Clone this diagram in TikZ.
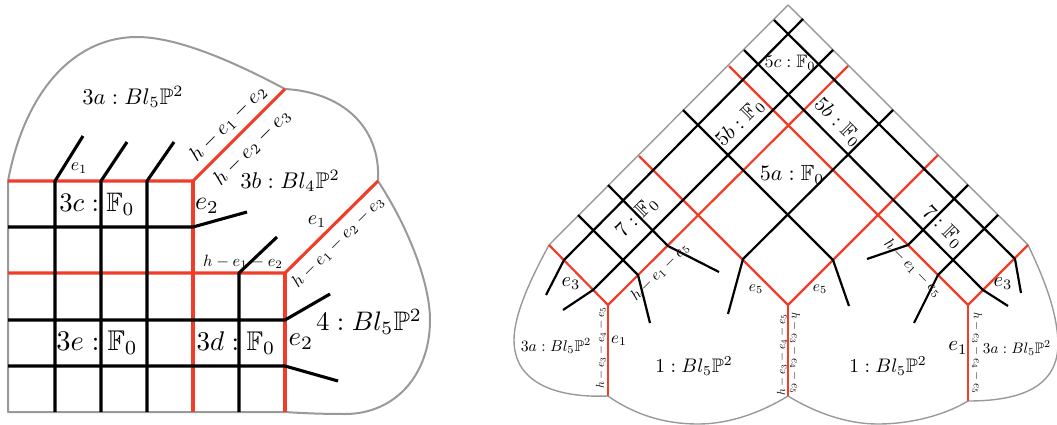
\documentclass[tikz,border=0pt]{standalone}
\usepackage{amssymb}
\definecolor{rd}{HTML}{F03C28}
\definecolor{gr}{HTML}{999999}
\tikzset{
 outl/.style={draw=gr,line width=2pt,line join=round},
 outr/.style={draw=gr,line width=1.4pt,line join=round},
 redl/.style={draw=rd,line width=3.1pt,line join=round},
 blkl/.style={draw=black,line width=3.1pt,line join=round},
 redr/.style={draw=rd,line width=2.2pt,line join=round},
 blkr/.style={draw=black,line width=2.2pt,line join=round},
 lab/.style={inner sep=0pt,scale=#1},
}
\begin{document}
\begin{tikzpicture}[x=1pt,y=-1pt]
\useasboundingbox (0,0) rectangle (1057,425);
% left figure outline
\draw[outl] (8,412) -- (8,181) .. controls (25,90) and (75,37) .. (137,37) .. controls (180,37) and (240,65) .. (285,89)
  .. controls (340,92) and (381,125) .. (378,181) .. controls (410,230) and (430,285) .. (430,320)
  .. controls (430,375) and (395,414) .. (345,414) .. controls (320,414) and (300,413) .. (285,412) -- cycle;
% left figure red
\draw[redl] (8,181) -- (193,181) -- (285,89);
\draw[redl] (193,181) -- (193,412);
\draw[redl] (8,273) -- (285,273) -- (378,181);
\draw[redl] (285,273) -- (285,412);
% left figure black
\draw[blkl] (8,227) -- (193,227) -- (247,212);
\draw[blkl] (8,320) -- (285,320) -- (330,294);
\draw[blkl] (8,366) -- (285,366) -- (338,381);
\draw[blkl] (55,412) -- (55,181) -- (83,136);
\draw[blkl] (101,412) -- (101,181) -- (127,142);
\draw[blkl] (147,412) -- (147,181) -- (174,142);
\draw[blkl] (239,412) -- (239,273) -- (277,237);
% left labels
\node[lab=2.26] (a3a) at (133,97) {$3a:Bl_5\mathbb{P}^2$};
\node[lab=2.05,rotate=45] (ah1) at (228,123) {$h-e_1-e_2$};
\node[lab=2.05,rotate=45] (ah2) at (252,147) {$h-e_2-e_3$};
\node[lab=1.8] (ae1) at (79,168) {$e_1$};
\node[lab=2.67] (a3c) at (97,204) {$3c:\mathbb{F}_0$};
\node[lab=2.6] (ae2) at (207,206) {$e_2$};
\node[lab=2.27] (a3b) at (290,181) {$3b:Bl_4\mathbb{P}^2$};
\node[lab=2] (be1) at (317,222) {$e_1$};
\node[lab=1.75,rotate=45] (ah3) at (338,242) {$h-e_1-e_2-e_3$};
\node[lab=1.64] (ah4) at (243,262) {$h-e_1-e_2$};
\node[lab=2.85] (a3e) at (97,343) {$3e:\mathbb{F}_0$};
\node[lab=2.7] (a3d) at (236,343) {$3d:\mathbb{F}_0$};
\node[lab=2.7] (be2) at (301,342) {$e_2$};
\node[lab=2.68] (a4) at (369,322) {$4:Bl_5\mathbb{P}^2$};
% right figure outline
\draw[outr] (549,245) -- (788,5) -- (1028,245) .. controls (1040,270) and (1058,310) .. (1058,345)
  .. controls (1057,390) and (1015,401) .. (968,401) .. controls (945,415) and (911,424) .. (878,424)
  .. controls (846,424) and (814,412) .. (788,396) .. controls (762,412) and (730,424) .. (698,424)
  .. controls (665,424) and (635,415) .. (608,396) .. controls (560,398) and (514,385) .. (514,340)
  .. controls (514,315) and (530,280) .. (549,245);
% right figure red
\draw[redr] (549,245) -- (608,305) -- (848,66);
\draw[redr] (639,156) -- (788,305) -- (938,155);
\draw[redr] (729,66) -- (968,305) -- (1028,245);
\draw[redr] (608,305) -- (608,396);
\draw[redr] (788,305) -- (788,396);
\draw[redr] (968,305) -- (968,401);
% right figure black, running up to the right
\draw[blkr] (546,295) -- (564,260) -- (803,19);
\draw[blkr] (563,310) -- (593,290) -- (833,50);
\draw[blkr] (728,314) -- (743,259) -- (893,110);
\draw[blkr] (867,259) -- (908,245) -- (968,185);
\draw[blkr] (914,323) -- (938,275) -- (998,215);
% right figure black, running down to the right
\draw[blkr] (578,215) -- (638,275) -- (650,323);
\draw[blkr] (608,185) -- (668,246) -- (719,272);
\draw[blkr] (683,110) -- (833,260) -- (849,306);
\draw[blkr] (744,50) -- (983,290) -- (1008,306);
\draw[blkr] (774,20) -- (1015,259) -- (1021,293);
% right labels
\node[lab=1.8] (c5c) at (790,63) {$5c:\mathbb{F}_0$};
\node[lab=2.1,rotate=45] (c5b) at (740,123) {$5b:\mathbb{F}_0$};
\node[lab=2.1,rotate=-45] (d5b) at (838,122) {$5b:\mathbb{F}_0$};
\node[lab=2.2] (c5a) at (792,175) {$5a:\mathbb{F}_0$};
\node[lab=2.1,rotate=45] (c7) at (637,217) {$7:\mathbb{F}_0$};
\node[lab=2.1,rotate=-45] (d7) at (943,227) {$7:\mathbb{F}_0$};
\node[lab=2.05] (ce3) at (571,284) {$e_3$};
\node[lab=2.05] (de3) at (1003,284) {$e_3$};
\node[lab=1.55,rotate=45] (ch1) at (660,272) {$h-e_1-e_5$};
\node[lab=1.55,rotate=-45] (dh1) at (913,268) {$h-e_1-e_5$};
\node[lab=1.55] (ce5) at (756,289) {$e_5$};
\node[lab=1.55] (de5) at (820,289) {$e_5$};
\node[lab=1.7] (ce1) at (619,341) {$e_1$};
\node[lab=2.1] (de1) at (958,348) {$e_1$};
\node[lab=1.57] (c3a) at (556,346) {$3a:Bl_5\mathbb{P}^2$};
\node[lab=1.52] (d3a) at (1017,348) {$3a:Bl_5\mathbb{P}^2$};
\node[lab=1.96] (c1) at (694,366) {$1:Bl_5\mathbb{P}^2$};
\node[lab=1.96] (d1) at (888,366) {$1:Bl_5\mathbb{P}^2$};
\node[lab=1.17,rotate=90] (ch2) at (601,348) {$h-e_3-e_4-e_5$};
\node[lab=1.17,rotate=90] (ch3) at (782,355) {$h-e_3-e_4-e_5$};
\node[lab=1.17,rotate=-90] (dh2) at (795,353) {$h-e_3-e_4-e_5$};
\node[lab=1.17,rotate=-90] (dh3) at (977,353) {$h-e_3-e_4-e_5$};
\end{tikzpicture}
\end{document}
